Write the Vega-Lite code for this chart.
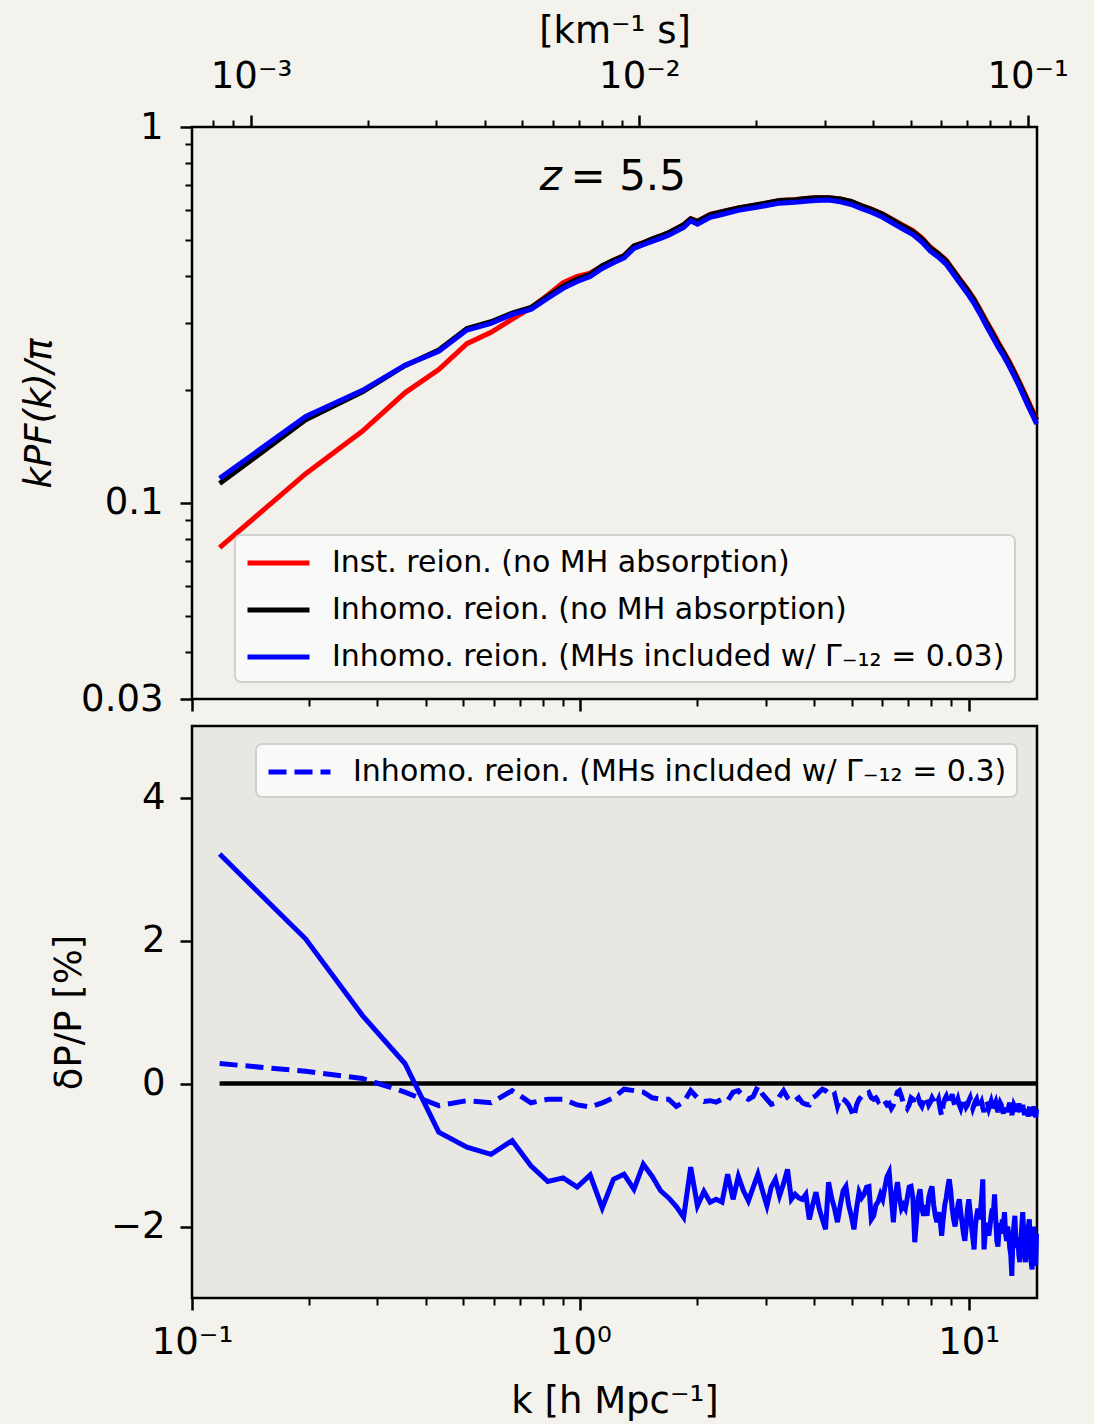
{
  "$schema": "https://vega.github.io/schema/vega-lite/v6.json",
  "background": "#f4f2ed",
  "padding": {"left": 19, "top": 10, "right": 40, "bottom": 5},
  "spacing": 5,
  "datasets": {
    "inst": [
      {"k":0.1178,"p":0.0759},{"k":0.1963,"p":0.1194},{"k":0.2749,"p":0.155},{"k":0.3534,"p":0.196},{"k":0.432,"p":0.226},
      {"k":0.5105,"p":0.265},{"k":0.589,"p":0.284},{"k":0.6676,"p":0.308},{"k":0.7461,"p":0.330},{"k":0.8247,"p":0.357},
      {"k":0.9032,"p":0.385},{"k":0.9817,"p":0.400},{"k":1.0603,"p":0.408},{"k":1.1388,"p":0.427},{"k":1.2174,"p":0.442},
      {"k":1.2959,"p":0.455},{"k":1.3744,"p":0.482},{"k":1.453,"p":0.492},{"k":1.5315,"p":0.503},{"k":1.6101,"p":0.513},
      {"k":1.6886,"p":0.523},{"k":1.8457,"p":0.549},{"k":1.9242,"p":0.570},{"k":2.0028,"p":0.561},{"k":2.1598,"p":0.585},
      {"k":2.3169,"p":0.595},{"k":2.5526,"p":0.609},{"k":2.8667,"p":0.621},{"k":3.2594,"p":0.637},{"k":3.5736,"p":0.640},
      {"k":3.8092,"p":0.645},{"k":4.0448,"p":0.648},{"k":4.359,"p":0.648},{"k":4.6731,"p":0.643},{"k":4.9873,"p":0.633},
      {"k":5.3015,"p":0.618},{"k":5.6156,"p":0.605},{"k":6.0083,"p":0.587},{"k":6.401,"p":0.566},{"k":6.7937,"p":0.547},
      {"k":7.1864,"p":0.530},{"k":7.5791,"p":0.507},{"k":7.9718,"p":0.479},{"k":8.3645,"p":0.461},{"k":8.7572,"p":0.442},
      {"k":9.1499,"p":0.415},{"k":9.5426,"p":0.391},{"k":9.9353,"p":0.370},{"k":10.328,"p":0.349},{"k":10.7207,"p":0.326},
      {"k":11.1134,"p":0.304},{"k":11.5061,"p":0.286},{"k":11.8988,"p":0.268},{"k":12.2915,"p":0.253},{"k":12.6842,"p":0.239},
      {"k":13.0769,"p":0.225},{"k":13.4696,"p":0.211},{"k":13.8623,"p":0.198},{"k":14.255,"p":0.186},{"k":14.6477,"p":0.175},
      {"k":14.9619,"p":0.167}
    ],
    "inhomo": [
      {"k":0.1178,"p":0.1124},{"k":0.1963,"p":0.1662},{"k":0.2749,"p":0.1971},{"k":0.3534,"p":0.2314},{"k":0.432,"p":0.2547},
      {"k":0.5105,"p":0.2906},{"k":0.589,"p":0.3030},{"k":0.6676,"p":0.3196},{"k":0.7461,"p":0.3308},{"k":0.8247,"p":0.3549},
      {"k":0.9032,"p":0.3770},{"k":0.9817,"p":0.3937},{"k":1.0603,"p":0.4052},{"k":1.1388,"p":0.4274},{"k":1.2174,"p":0.4416},
      {"k":1.2959,"p":0.4538},{"k":1.3744,"p":0.4822},{"k":1.453,"p":0.4916},{"k":1.5315,"p":0.5035},{"k":1.6101,"p":0.5127},
      {"k":1.6886,"p":0.5234},{"k":1.8457,"p":0.5494},{"k":1.9242,"p":0.5697},{"k":2.0028,"p":0.5606},{"k":2.1598,"p":0.5847},
      {"k":2.3169,"p":0.5949},{"k":2.5526,"p":0.6090},{"k":2.8667,"p":0.6215},{"k":3.2594,"p":0.6373},{"k":3.5736,"p":0.6400},
      {"k":3.8092,"p":0.6450},{"k":4.0448,"p":0.6480},{"k":4.359,"p":0.6480},{"k":4.6731,"p":0.6430},{"k":4.9873,"p":0.6335},
      {"k":5.3015,"p":0.6165},{"k":5.6156,"p":0.6040},{"k":6.0083,"p":0.5855},{"k":6.401,"p":0.5640},{"k":6.7937,"p":0.5440},
      {"k":7.1864,"p":0.5270},{"k":7.5791,"p":0.5040},{"k":7.9718,"p":0.4765},{"k":8.3645,"p":0.4590},{"k":8.7572,"p":0.4395},
      {"k":9.1499,"p":0.4130},{"k":9.5426,"p":0.3890},{"k":9.9353,"p":0.3675},{"k":10.328,"p":0.3460},{"k":10.7207,"p":0.3235},
      {"k":11.1134,"p":0.3015},{"k":11.5061,"p":0.2830},{"k":11.8988,"p":0.2655},{"k":12.2915,"p":0.2515},{"k":12.6842,"p":0.2370},
      {"k":13.0769,"p":0.2225},{"k":13.4696,"p":0.2095},{"k":13.8623,"p":0.1960},{"k":14.255,"p":0.1840},{"k":14.6477,"p":0.1735},
      {"k":14.9619,"p":0.1655}
    ],
    "mh003": [
      {"k":0.1178,"p":0.1160},{"k":0.1963,"p":0.1695},{"k":0.2749,"p":0.199},{"k":0.3534,"p":0.232},{"k":0.432,"p":0.253},
      {"k":0.5105,"p":0.288},{"k":0.589,"p":0.300},{"k":0.6676,"p":0.317},{"k":0.7461,"p":0.327},{"k":0.8247,"p":0.350},
      {"k":0.9032,"p":0.372},{"k":0.9817,"p":0.388},{"k":1.0603,"p":0.400},{"k":1.1388,"p":0.420},{"k":1.2174,"p":0.435},
      {"k":1.2959,"p":0.448},{"k":1.3744,"p":0.475},{"k":1.453,"p":0.486},{"k":1.5315,"p":0.496},{"k":1.6101,"p":0.505},
      {"k":1.6886,"p":0.515},{"k":1.8457,"p":0.540},{"k":1.9242,"p":0.563},{"k":2.0028,"p":0.551},{"k":2.1598,"p":0.575},
      {"k":2.3169,"p":0.585},{"k":2.5526,"p":0.600},{"k":2.8667,"p":0.612},{"k":3.2594,"p":0.627},{"k":3.5736,"p":0.630},
      {"k":3.8092,"p":0.634},{"k":4.0448,"p":0.637},{"k":4.359,"p":0.639},{"k":4.6731,"p":0.632},{"k":4.9873,"p":0.622},
      {"k":5.3015,"p":0.606},{"k":5.6156,"p":0.593},{"k":6.0083,"p":0.575},{"k":6.401,"p":0.553},{"k":6.7937,"p":0.534},
      {"k":7.1864,"p":0.517},{"k":7.5791,"p":0.494},{"k":7.9718,"p":0.467},{"k":8.3645,"p":0.450},{"k":8.7572,"p":0.431},
      {"k":9.1499,"p":0.405},{"k":9.5426,"p":0.381},{"k":9.9353,"p":0.360},{"k":10.328,"p":0.339},{"k":10.7207,"p":0.317},
      {"k":11.1134,"p":0.295},{"k":11.5061,"p":0.277},{"k":11.8988,"p":0.260},{"k":12.2915,"p":0.246},{"k":12.6842,"p":0.232},
      {"k":13.0769,"p":0.218},{"k":13.4696,"p":0.205},{"k":13.8623,"p":0.192},{"k":14.255,"p":0.180},{"k":14.6477,"p":0.170},
      {"k":14.9619,"p":0.162}
    ],
    "kms": [{"kkm":0.001},{"kkm":0.01},{"kkm":0.1}],
    "zero": [{"k":0.1178,"d":0},{"k":14.9619,"d":0}],
    "dev003": [
      {"k":0.1178,"d":3.21},{"k":0.1963,"d":2.02},{"k":0.2749,"d":0.95},{"k":0.3534,"d":0.28},{"k":0.432,"d":-0.68},
      {"k":0.5105,"d":-0.89},{"k":0.589,"d":-0.99},{"k":0.6676,"d":-0.80},{"k":0.7461,"d":-1.15},{"k":0.8247,"d":-1.37},
      {"k":0.9032,"d":-1.32},{"k":0.9817,"d":-1.45},{"k":1.0603,"d":-1.28},{"k":1.1388,"d":-1.74},{"k":1.2174,"d":-1.34},
      {"k":1.2959,"d":-1.27},{"k":1.3744,"d":-1.48},{"k":1.453,"d":-1.13},{"k":1.5315,"d":-1.30},{"k":1.6101,"d":-1.50},
      {"k":1.6886,"d":-1.60},{"k":1.7671,"d":-1.72},{"k":1.8457,"d":-1.87},{"k":1.9242,"d":-1.17},{"k":2.0028,"d":-1.71},
      {"k":2.0813,"d":-1.51},{"k":2.1598,"d":-1.66},{"k":2.2384,"d":-1.62},{"k":2.3169,"d":-1.66},{"k":2.3955,"d":-1.27},
      {"k":2.474,"d":-1.62},{"k":2.5526,"d":-1.30},{"k":2.6311,"d":-1.50},{"k":2.7096,"d":-1.64},{"k":2.7882,"d":-1.45},
      {"k":2.8667,"d":-1.27},{"k":2.9453,"d":-1.50},{"k":3.0238,"d":-1.71},{"k":3.1023,"d":-1.45},{"k":3.1809,"d":-1.34},
      {"k":3.2594,"d":-1.57},{"k":3.338,"d":-1.40},{"k":3.4165,"d":-1.20},{"k":3.495,"d":-1.62},{"k":3.5736,"d":-1.55},
      {"k":3.6521,"d":-1.60},{"k":3.7307,"d":-1.62},{"k":3.8092,"d":-1.55},{"k":3.8877,"d":-1.90},{"k":3.9663,"d":-1.70},
      {"k":4.0448,"d":-1.52},{"k":4.1234,"d":-1.75},{"k":4.2019,"d":-1.90},{"k":4.2804,"d":-2.04},{"k":4.359,"d":-1.38},
      {"k":4.4375,"d":-1.60},{"k":4.5161,"d":-1.75},{"k":4.5946,"d":-1.94},{"k":4.6731,"d":-1.70},{"k":4.7517,"d":-1.50},
      {"k":4.8302,"d":-1.44},{"k":4.9088,"d":-1.70},{"k":4.9873,"d":-1.85},{"k":5.0658,"d":-2.04},{"k":5.1444,"d":-1.75},
      {"k":5.2229,"d":-1.52},{"k":5.3015,"d":-1.60},{"k":5.38,"d":-1.55},{"k":5.4585,"d":-1.45},{"k":5.5371,"d":-1.44},
      {"k":5.6156,"d":-1.90},{"k":5.6942,"d":-1.85},{"k":5.7727,"d":-1.70},{"k":5.8512,"d":-1.65},{"k":5.9298,"d":-1.55},
      {"k":6.0083,"d":-1.62},{"k":6.0869,"d":-1.45},{"k":6.1654,"d":-1.30},{"k":6.2439,"d":-1.24},{"k":6.3225,"d":-1.60},
      {"k":6.401,"d":-1.94},{"k":6.4796,"d":-1.55},{"k":6.5581,"d":-1.38},{"k":6.6366,"d":-1.60},{"k":6.7152,"d":-1.75},
      {"k":6.7937,"d":-1.70},{"k":6.8723,"d":-1.75},{"k":6.9508,"d":-1.60},{"k":7.0293,"d":-1.45},{"k":7.1079,"d":-1.44},
      {"k":7.1864,"d":-1.60},{"k":7.265,"d":-2.22},{"k":7.3435,"d":-1.90},{"k":7.422,"d":-1.60},{"k":7.5006,"d":-1.48},
      {"k":7.5791,"d":-1.75},{"k":7.6577,"d":-1.85},{"k":7.7362,"d":-1.70},{"k":7.8147,"d":-1.85},{"k":7.8933,"d":-1.60},
      {"k":7.9718,"d":-1.50},{"k":8.0504,"d":-1.44},{"k":8.1289,"d":-1.70},{"k":8.2074,"d":-1.85},{"k":8.286,"d":-1.94},
      {"k":8.3645,"d":-1.80},{"k":8.4431,"d":-1.90},{"k":8.5216,"d":-2.13},{"k":8.6001,"d":-1.90},{"k":8.6787,"d":-1.70},
      {"k":8.7572,"d":-1.60},{"k":8.8358,"d":-1.45},{"k":8.9143,"d":-1.34},{"k":8.9928,"d":-1.50},{"k":9.0714,"d":-1.75},
      {"k":9.1499,"d":-1.90},{"k":9.2285,"d":-2.00},{"k":9.307,"d":-1.85},{"k":9.3855,"d":-1.70},{"k":9.4641,"d":-1.62},
      {"k":9.5426,"d":-1.80},{"k":9.6212,"d":-1.95},{"k":9.6997,"d":-2.10},{"k":9.7782,"d":-2.20},{"k":9.8568,"d":-2.00},
      {"k":9.9353,"d":-1.75},{"k":10.0139,"d":-1.62},{"k":10.0924,"d":-1.80},{"k":10.1709,"d":-2.00},{"k":10.2495,"d":-2.15},
      {"k":10.328,"d":-2.32},{"k":10.4066,"d":-2.00},{"k":10.4851,"d":-1.85},{"k":10.5636,"d":-1.75},{"k":10.6422,"d":-1.90},
      {"k":10.7207,"d":-1.80},{"k":10.7993,"d":-1.60},{"k":10.8778,"d":-1.34},{"k":10.9563,"d":-2.32},{"k":11.0349,"d":-2.10},
      {"k":11.1134,"d":-1.95},{"k":11.192,"d":-2.00},{"k":11.2705,"d":-2.13},{"k":11.349,"d":-2.00},{"k":11.4276,"d":-1.85},
      {"k":11.5061,"d":-1.75},{"k":11.5847,"d":-1.80},{"k":11.6632,"d":-1.55},{"k":11.7417,"d":-1.90},{"k":11.8203,"d":-2.20},
      {"k":11.8988,"d":-2.28},{"k":11.9774,"d":-2.05},{"k":12.0559,"d":-1.95},{"k":12.1344,"d":-2.10},{"k":12.213,"d":-1.90},
      {"k":12.2915,"d":-2.00},{"k":12.3701,"d":-1.80},{"k":12.4486,"d":-2.10},{"k":12.5271,"d":-2.20},{"k":12.6057,"d":-2.00},
      {"k":12.6842,"d":-2.10},{"k":12.7628,"d":-2.30},{"k":12.8413,"d":-2.40},{"k":12.9198,"d":-2.69},{"k":12.9984,"d":-2.20},
      {"k":13.0769,"d":-2.00},{"k":13.1555,"d":-1.85},{"k":13.234,"d":-2.20},{"k":13.3125,"d":-2.30},{"k":13.3911,"d":-2.15},
      {"k":13.4696,"d":-2.40},{"k":13.5482,"d":-2.50},{"k":13.6267,"d":-2.20},{"k":13.7052,"d":-2.00},{"k":13.7838,"d":-1.80},
      {"k":13.8623,"d":-2.10},{"k":13.9409,"d":-2.35},{"k":14.0194,"d":-2.50},{"k":14.0979,"d":-2.20},{"k":14.1765,"d":-2.45},
      {"k":14.255,"d":-2.00},{"k":14.3336,"d":-1.90},{"k":14.4121,"d":-2.30},{"k":14.4906,"d":-2.50},{"k":14.5692,"d":-2.60},
      {"k":14.6477,"d":-2.20},{"k":14.7263,"d":-2.00},{"k":14.8048,"d":-2.40},{"k":14.8833,"d":-2.55},{"k":14.9619,"d":-2.10}
    ],
    "dev03": [
      {"k":0.1178,"d":0.28},{"k":0.1963,"d":0.17},{"k":0.2749,"d":0.07},{"k":0.3534,"d":-0.12},{"k":0.432,"d":-0.31},
      {"k":0.5105,"d":-0.24},{"k":0.589,"d":-0.27},{"k":0.6676,"d":-0.10},{"k":0.7461,"d":-0.27},{"k":0.8247,"d":-0.22},
      {"k":0.9032,"d":-0.22},{"k":0.9817,"d":-0.30},{"k":1.0603,"d":-0.33},{"k":1.1388,"d":-0.27},{"k":1.2174,"d":-0.20},
      {"k":1.2959,"d":-0.08},{"k":1.3744,"d":-0.10},{"k":1.453,"d":-0.12},{"k":1.5315,"d":-0.20},{"k":1.6101,"d":-0.22},
      {"k":1.6886,"d":-0.22},{"k":1.7671,"d":-0.32},{"k":1.8457,"d":-0.26},{"k":1.9242,"d":-0.10},{"k":2.0028,"d":-0.20},
      {"k":2.0813,"d":-0.25},{"k":2.1598,"d":-0.24},{"k":2.2384,"d":-0.26},{"k":2.3169,"d":-0.22},{"k":2.3955,"d":-0.24},
      {"k":2.474,"d":-0.12},{"k":2.5526,"d":-0.10},{"k":2.6311,"d":-0.18},{"k":2.7096,"d":-0.22},{"k":2.7882,"d":-0.18},
      {"k":2.8667,"d":-0.04},{"k":2.9453,"d":-0.15},{"k":3.0238,"d":-0.22},{"k":3.1023,"d":-0.29},{"k":3.1809,"d":-0.27},
      {"k":3.2594,"d":-0.18},{"k":3.338,"d":-0.10},{"k":3.4165,"d":-0.20},{"k":3.495,"d":-0.25},{"k":3.5736,"d":-0.24},
      {"k":3.6521,"d":-0.20},{"k":3.7307,"d":-0.27},{"k":3.8092,"d":-0.29},{"k":3.8877,"d":-0.30},{"k":3.9663,"d":-0.20},
      {"k":4.0448,"d":-0.17},{"k":4.1234,"d":-0.12},{"k":4.2019,"d":-0.08},{"k":4.2804,"d":-0.10},{"k":4.359,"d":-0.14},
      {"k":4.4375,"d":-0.18},{"k":4.5161,"d":-0.15},{"k":4.5946,"d":-0.32},{"k":4.6731,"d":-0.20},{"k":4.7517,"d":-0.22},
      {"k":4.8302,"d":-0.25},{"k":4.9088,"d":-0.30},{"k":4.9873,"d":-0.38},{"k":5.0658,"d":-0.47},{"k":5.1444,"d":-0.30},
      {"k":5.2229,"d":-0.22},{"k":5.3015,"d":-0.18},{"k":5.38,"d":-0.15},{"k":5.4585,"d":-0.16},{"k":5.5371,"d":-0.13},
      {"k":5.6156,"d":-0.20},{"k":5.6942,"d":-0.22},{"k":5.7727,"d":-0.20},{"k":5.8512,"d":-0.25},{"k":5.9298,"d":-0.22},
      {"k":6.0083,"d":-0.20},{"k":6.0869,"d":-0.25},{"k":6.1654,"d":-0.30},{"k":6.2439,"d":-0.28},{"k":6.3225,"d":-0.35},
      {"k":6.401,"d":-0.30},{"k":6.4796,"d":-0.20},{"k":6.5581,"d":-0.12},{"k":6.6366,"d":-0.10},{"k":6.7152,"d":-0.18},
      {"k":6.7937,"d":-0.28},{"k":6.8723,"d":-0.30},{"k":6.9508,"d":-0.35},{"k":7.0293,"d":-0.30},{"k":7.1079,"d":-0.20},
      {"k":7.1864,"d":-0.22},{"k":7.265,"d":-0.30},{"k":7.3435,"d":-0.25},{"k":7.422,"d":-0.20},{"k":7.5006,"d":-0.28},
      {"k":7.5791,"d":-0.32},{"k":7.6577,"d":-0.25},{"k":7.7362,"d":-0.18},{"k":7.8147,"d":-0.22},{"k":7.8933,"d":-0.30},
      {"k":7.9718,"d":-0.26},{"k":8.0504,"d":-0.20},{"k":8.1289,"d":-0.24},{"k":8.2074,"d":-0.30},{"k":8.286,"d":-0.27},
      {"k":8.3645,"d":-0.22},{"k":8.4431,"d":-0.35},{"k":8.5216,"d":-0.45},{"k":8.6001,"d":-0.30},{"k":8.6787,"d":-0.22},
      {"k":8.7572,"d":-0.18},{"k":8.8358,"d":-0.25},{"k":8.9143,"d":-0.30},{"k":8.9928,"d":-0.22},{"k":9.0714,"d":-0.15},
      {"k":9.1499,"d":-0.25},{"k":9.2285,"d":-0.32},{"k":9.307,"d":-0.28},{"k":9.3855,"d":-0.22},{"k":9.4641,"d":-0.30},
      {"k":9.5426,"d":-0.35},{"k":9.6212,"d":-0.28},{"k":9.6997,"d":-0.20},{"k":9.7782,"d":-0.26},{"k":9.8568,"d":-0.33},
      {"k":9.9353,"d":-0.30},{"k":10.0139,"d":-0.24},{"k":10.0924,"d":-0.20},{"k":10.1709,"d":-0.28},{"k":10.2495,"d":-0.35},
      {"k":10.328,"d":-0.30},{"k":10.4066,"d":-0.25},{"k":10.4851,"d":-0.22},{"k":10.5636,"d":-0.30},{"k":10.6422,"d":-0.36},
      {"k":10.7207,"d":-0.30},{"k":10.7993,"d":-0.26},{"k":10.8778,"d":-0.34},{"k":10.9563,"d":-0.40},{"k":11.0349,"d":-0.30},
      {"k":11.1134,"d":-0.24},{"k":11.192,"d":-0.28},{"k":11.2705,"d":-0.35},{"k":11.349,"d":-0.30},{"k":11.4276,"d":-0.25},
      {"k":11.5061,"d":-0.32},{"k":11.5847,"d":-0.38},{"k":11.6632,"d":-0.30},{"k":11.7417,"d":-0.26},{"k":11.8203,"d":-0.34},
      {"k":11.8988,"d":-0.40},{"k":11.9774,"d":-0.33},{"k":12.0559,"d":-0.27},{"k":12.1344,"d":-0.30},{"k":12.213,"d":-0.37},
      {"k":12.2915,"d":-0.42},{"k":12.3701,"d":-0.33},{"k":12.4486,"d":-0.28},{"k":12.5271,"d":-0.35},{"k":12.6057,"d":-0.40},
      {"k":12.6842,"d":-0.32},{"k":12.7628,"d":-0.27},{"k":12.8413,"d":-0.36},{"k":12.9198,"d":-0.44},{"k":12.9984,"d":-0.38},
      {"k":13.0769,"d":-0.30},{"k":13.1555,"d":-0.33},{"k":13.234,"d":-0.40},{"k":13.3125,"d":-0.45},{"k":13.3911,"d":-0.35},
      {"k":13.4696,"d":-0.28},{"k":13.5482,"d":-0.36},{"k":13.6267,"d":-0.42},{"k":13.7052,"d":-0.34},{"k":13.7838,"d":-0.30},
      {"k":13.8623,"d":-0.38},{"k":13.9409,"d":-0.44},{"k":14.0194,"d":-0.36},{"k":14.0979,"d":-0.30},{"k":14.1765,"d":-0.40},
      {"k":14.255,"d":-0.46},{"k":14.3336,"d":-0.35},{"k":14.4121,"d":-0.28},{"k":14.4906,"d":-0.38},{"k":14.5692,"d":-0.45},
      {"k":14.6477,"d":-0.40},{"k":14.7263,"d":-0.32},{"k":14.8048,"d":-0.42},{"k":14.8833,"d":-0.47},{"k":14.9619,"d":-0.36}
    ]
  },
  "vconcat": [
    {
      "width": 845,
      "height": 572,
      "view": {"fill": "#f2f0eb", "stroke": "#000000", "strokeWidth": 2.5},
      "layer": [
        {
          "layer": [
            {
              "data": {"name": "inst"},
              "mark": {"type": "line", "strokeWidth": 5},
              "encoding": {
                "x": {
                  "field": "k", "type": "quantitative",
                  "scale": {"type": "log", "domain": [0.1, 15], "nice": false},
                  "axis": {
                    "orient": "bottom", "title": null, "labels": false,
                    "values": [0.1,0.2,0.3,0.4,0.5,0.6,0.7,0.8,0.9,1,2,3,4,5,6,7,8,9,10],
                    "tickSize": {"condition": {"test": "indexof([0.1,1,10], datum.value) >= 0", "value": 12}, "value": 7},
                    "tickWidth": {"condition": {"test": "indexof([0.1,1,10], datum.value) >= 0", "value": 2.5}, "value": 2}
                  }
                },
                "y": {
                  "field": "p", "type": "quantitative",
                  "scale": {"type": "log", "domain": [0.03, 1], "nice": false},
                  "axis": {
                    "title": "kPF(k)/π", "titleFontStyle": "italic", "titlePadding": 22,
                    "values": [0.03,0.04,0.05,0.06,0.07,0.08,0.09,0.1,0.2,0.3,0.4,0.5,0.6,0.7,0.8,0.9,1],
                    "labelExpr": "datum.value == 1 ? '1' : datum.value == 0.1 ? '0.1' : datum.value == 0.03 ? '0.03' : ''",
                    "labelPadding": 17,
                    "tickSize": {"condition": {"test": "indexof([0.03,0.1,1], datum.value) >= 0", "value": 12}, "value": 7},
                    "tickWidth": {"condition": {"test": "indexof([0.03,0.1,1], datum.value) >= 0", "value": 2.5}, "value": 2}
                  }
                },
                "color": {
                  "datum": "Inst. reion. (no MH absorption)", "type": "nominal",
                  "scale": {
                    "domain": ["Inst. reion. (no MH absorption)", "Inhomo. reion. (no MH absorption)", "Inhomo. reion. (MHs included w/ Γ₋₁₂ = 0.03)"],
                    "range": ["#ff0000", "#000000", "#0000ff"]
                  },
                  "legend": {"title": null, "orient": "none", "legendX": 43, "legendY": 408}
                }
              }
            },
            {
              "data": {"name": "inhomo"},
              "mark": {"type": "line", "strokeWidth": 5},
              "encoding": {
                "x": {"field": "k", "type": "quantitative"},
                "y": {"field": "p", "type": "quantitative"},
                "color": {"datum": "Inhomo. reion. (no MH absorption)", "type": "nominal"}
              }
            },
            {
              "data": {"name": "mh003"},
              "mark": {"type": "line", "strokeWidth": 5},
              "encoding": {
                "x": {"field": "k", "type": "quantitative"},
                "y": {"field": "p", "type": "quantitative"},
                "color": {"datum": "Inhomo. reion. (MHs included w/ Γ₋₁₂ = 0.03)", "type": "nominal"}
              }
            },
            {
              "data": {"values": [{"label": "z"}]},
              "mark": {"type": "text", "fontSize": 42, "fontStyle": "italic", "align": "left", "baseline": "alphabetic", "color": "#000000"},
              "encoding": {
                "text": {"field": "label"},
                "x": {"datum": 0.786, "type": "quantitative"},
                "y": {"datum": 0.68, "type": "quantitative"}
              }
            },
            {
              "data": {"values": [{"label": "= 5.5"}]},
              "mark": {"type": "text", "fontSize": 42, "align": "left", "baseline": "alphabetic", "color": "#000000"},
              "encoding": {
                "text": {"field": "label"},
                "x": {"datum": 0.944, "type": "quantitative"},
                "y": {"datum": 0.68, "type": "quantitative"}
              }
            }
          ]
        },
        {
          "data": {"name": "kms"},
          "mark": {"type": "point", "opacity": 0},
          "encoding": {
            "x": {
              "field": "kkm", "type": "quantitative",
              "scale": {"type": "log", "domain": [0.0007047, 0.10571], "nice": false},
              "axis": {
                "orient": "top", "title": "[km⁻¹ s]", "titlePadding": 7,
                "values": [0.0008,0.0009,0.001,0.002,0.003,0.004,0.005,0.006,0.007,0.008,0.009,0.01,0.02,0.03,0.04,0.05,0.06,0.07,0.08,0.09,0.1],
                "labelExpr": "datum.value == 0.001 ? '10⁻³' : datum.value == 0.01 ? '10⁻²' : datum.value == 0.1 ? '10⁻¹' : ''",
                "labelPadding": 20,
                "tickSize": {"condition": {"test": "indexof([0.001,0.01,0.1], datum.value) >= 0", "value": 12}, "value": 7},
                "tickWidth": {"condition": {"test": "indexof([0.001,0.01,0.1], datum.value) >= 0", "value": 2.5}, "value": 2}
              }
            }
          }
        }
      ],
      "resolve": {"scale": {"x": "independent"}}
    },
    {
      "width": 845,
      "height": 572,
      "view": {"fill": "#e9e7e2", "stroke": "#000000", "strokeWidth": 2.5},
      "encoding": {
        "x": {
          "field": "k", "type": "quantitative",
          "scale": {"type": "log", "domain": [0.1, 15], "nice": false},
          "axis": {
            "title": "k [h Mpc⁻¹]", "titlePadding": 23,
            "values": [0.1,0.2,0.3,0.4,0.5,0.6,0.7,0.8,0.9,1,2,3,4,5,6,7,8,9,10],
            "labelExpr": "datum.value == 0.1 ? '10⁻¹' : datum.value == 1 ? '10⁰' : datum.value == 10 ? '10¹' : ''",
            "labelPadding": 14,
            "tickSize": {"condition": {"test": "indexof([0.1,1,10], datum.value) >= 0", "value": 12}, "value": 7},
            "tickWidth": {"condition": {"test": "indexof([0.1,1,10], datum.value) >= 0", "value": 2.5}, "value": 2}
          }
        },
        "y": {
          "field": "d", "type": "quantitative",
          "scale": {"domain": [-3, 5], "nice": false, "zero": false},
          "axis": {
            "title": "δP/P [%]", "titlePadding": 22,
            "values": [-2, 0, 2, 4],
            "labelPadding": 15, "tickSize": 12, "tickWidth": 2.5
          }
        }
      },
      "layer": [
        {
          "data": {"name": "zero"},
          "mark": {"type": "line", "color": "#000000", "strokeWidth": 4.5}
        },
        {
          "data": {"name": "dev003"},
          "mark": {"type": "line", "color": "#0000ff", "strokeWidth": 5, "strokeJoin": "miter"}
        },
        {
          "data": {"name": "dev03"},
          "mark": {"type": "line", "color": "#0000ff", "strokeWidth": 5},
          "encoding": {
            "strokeDash": {
              "datum": "Inhomo. reion. (MHs included w/ Γ₋₁₂ = 0.3)", "type": "nominal",
              "scale": {"domain": ["Inhomo. reion. (MHs included w/ Γ₋₁₂ = 0.3)"], "range": [[18, 8]]},
              "legend": {"title": null, "orient": "none", "legendX": 64, "legendY": 617, "symbolStrokeColor": "#0000ff"}
            }
          }
        }
      ]
    }
  ],
  "config": {
    "font": "DejaVu Sans",
    "axis": {
      "domain": false, "grid": false,
      "labelFont": "DejaVu Sans", "labelFontSize": 37, "labelColor": "#000000",
      "titleFont": "DejaVu Sans", "titleFontSize": 37, "titleFontWeight": "normal", "titleColor": "#000000",
      "tickColor": "#000000", "labelFlush": false, "labelOverlap": false
    },
    "legend": {
      "labelFont": "DejaVu Sans", "labelFontSize": 30, "labelColor": "#000000", "labelLimit": 0,
      "symbolType": "M-1,0H3", "symbolStrokeWidth": 5, "symbolSize": 961, "labelOffset": 51,
      "padding": 10, "rowPadding": 14,
      "fillColor": "#f9f9f7", "strokeColor": "#d0d0d0", "strokeWidth": 2, "cornerRadius": 6
    }
  }
}
